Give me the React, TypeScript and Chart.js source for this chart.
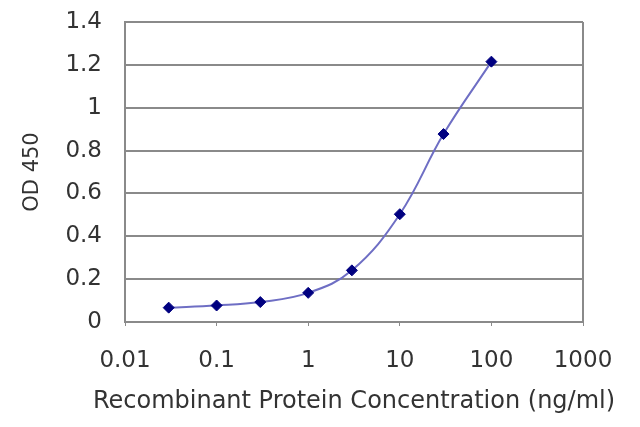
import React, { useEffect, useRef } from "react";
import { Chart, registerables } from "chart.js";

Chart.register(...registerables);

const concentrations = [0.03, 0.1, 0.3, 1, 3, 10, 30, 100];
const odValues = [0.067, 0.077, 0.093, 0.136, 0.241, 0.503, 0.877, 1.215];
const xTicks = [0.01, 0.1, 1, 10, 100, 1000];
const xTitle = "Recombinant Protein Concentration (ng/ml)";
const yTitle = "OD 450";
const FONT = "'DejaVu Sans', sans-serif";

const decorations = {
  id: "decorations",
  afterDraw(chart: any) {
    const { ctx, chartArea } = chart;
    ctx.save();
    ctx.strokeStyle = "#8a8a8a";
    ctx.lineWidth = 2;
    ctx.beginPath();
    ctx.moveTo(chartArea.right, chartArea.top);
    ctx.lineTo(chartArea.right, chartArea.bottom);
    ctx.stroke();
    ctx.fillStyle = "#333";
    ctx.font = `24px ${FONT}`;
    ctx.textAlign = "center";
    ctx.textBaseline = "middle";
    ctx.fillText(xTitle, (chartArea.left + chartArea.right) / 2, chartArea.bottom + 80);
    ctx.restore();
  },
};

export default function App() {
  const ref = useRef<HTMLCanvasElement | null>(null);
  useEffect(() => {
    if (!ref.current) return;
    const chart = new Chart(ref.current, {
      type: "line",
      data: {
        datasets: [
          {
            data: concentrations.map((c, i) => ({ x: c, y: odValues[i] })),
            borderColor: "#6e6ec4",
            borderWidth: 2,
            tension: 0.4,
            pointStyle: "rectRot",
            pointRadius: 5.5,
            pointBackgroundColor: "#000080",
            pointBorderColor: "#000080",
            pointBorderWidth: 1,
          },
        ],
      },
      plugins: [decorations],
      options: {
        responsive: false,
        animation: false,
        layout: { padding: { top: 22, right: 57, left: 0, bottom: 0 } },
        plugins: { legend: { display: false }, tooltip: { enabled: false } },
        scales: {
          x: {
            type: "logarithmic",
            min: 0.01,
            max: 1000,
            afterBuildTicks: (scale: any) => {
              scale.ticks = xTicks.map((v) => ({ value: v }));
            },
            afterFit: (scale: any) => {
              scale.height = 105;
            },
            grid: {
              drawOnChartArea: false,
              drawTicks: true,
              tickLength: 4,
              color: "#8a8a8a",
              lineWidth: 1,
            },
            border: { color: "#8a8a8a", width: 2 },
            ticks: {
              autoSkip: false,
              maxRotation: 0,
              padding: 21,
              color: "#333",
              font: { family: FONT, size: 23 },
              callback: (v: any) => String(v),
            },
          },
          y: {
            min: 0,
            max: 1.4,
            afterFit: (scale: any) => {
              scale.width = 125;
            },
            grid: {
              color: "#8a8a8a",
              lineWidth: 2,
              drawTicks: true,
              tickLength: 16,
              tickColor: "rgba(0,0,0,0)",
            },
            border: { color: "#8a8a8a", width: 2 },
            ticks: {
              stepSize: 0.2,
              padding: 7,
              color: "#333",
              font: { family: FONT, size: 23 },
              callback: (v: any) => String(+Number(v).toFixed(1)),
            },
            title: {
              display: true,
              text: yTitle,
              color: "#333",
              font: { family: FONT, size: 21 },
              padding: { top: 20, bottom: 0 },
            },
          },
        },
      },
    });
    return () => chart.destroy();
  }, []);
  return (
    <div style={{ position: "absolute", left: 0, top: 0, width: 640, height: 427, background: "#fff" }}>
      <canvas ref={ref} width={640} height={427} />
    </div>
  );
}
